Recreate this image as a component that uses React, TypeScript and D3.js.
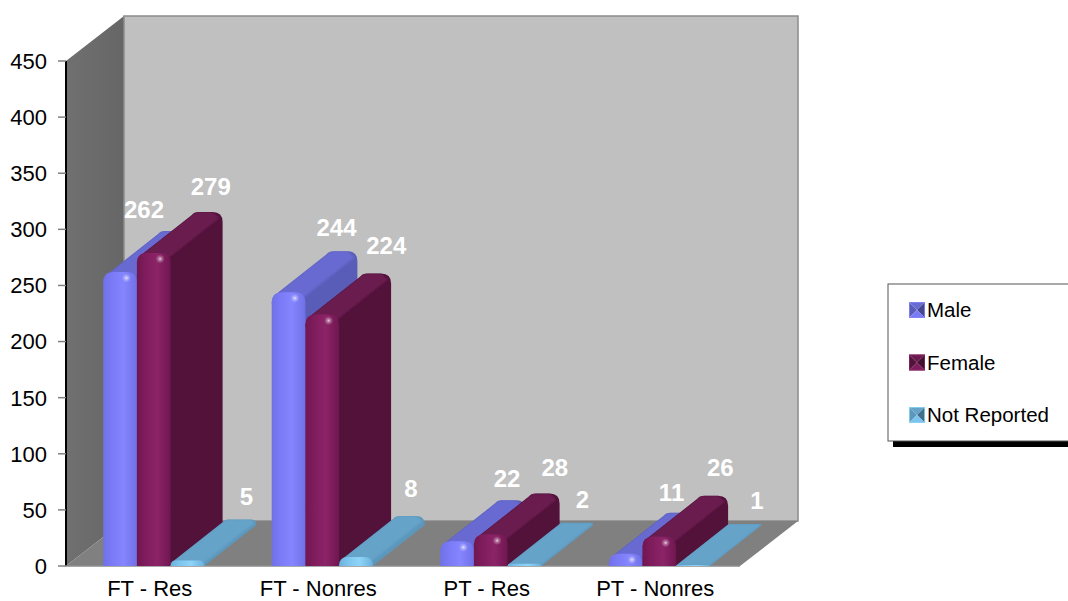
import * as d3 from 'd3';
import React from 'react';

// chart data
const categories = ['FT - Res', 'FT - Nonres', 'PT - Res', 'PT - Nonres'];
const seriesNames = ['Male', 'Female', 'Not Reported'];
const male = [262, 244, 22, 11];
const female = [279, 224, 28, 26];
const notReported = [5, 8, 2, 1];
const yTicks = [0, 50, 100, 150, 200, 250, 300, 350, 400, 450];

const W = 1068;
const H = 601;
const plot = { left: 66, right: 740, top: 61, bottom: 566 };
const depth = { dx: 58, dy: -45 };
const barDepth = { dx: 52, dy: -41 };

const colors = [
	{ light: '#8585ff', mid: '#7a7af6', edge: '#7070e6', top: '#686bd2', side: '#5a5db8', dark: '#45478f' },
	{ light: '#8c2468', mid: '#7f1c5c', edge: '#701650', top: '#6b1a50', side: '#521239', dark: '#420e2e' },
	{ light: '#8fd4f8', mid: '#7cc4ee', edge: '#6bb0dc', top: '#66a3c9', side: '#5c97bc', dark: '#3f6f8c' },
];

const x0 = d3.scaleBand<string>().domain(categories).range([plot.left + 3.5, plot.right + 3.5]);
const x1 = d3.scaleBand<string>().domain(seriesNames).range([x0.bandwidth() * 0.2, x0.bandwidth() * 0.8]);
const y = d3.scaleLinear().domain([0, 450]).range([plot.bottom, plot.top]);

// hand placed data labels, as in the original: [dx, dy] from front top centre of the bar
const labelNudge = [
	[[24, -54], [57, -58], [59, -55]],
	[[48, -56], [64, -61], [55, -60]],
	[[50, -54], [64, -59], [58, -56]],
	[[46, -53], [61, -61], [64, -56]],
];

const pts = (p: number[][]) => p.map(d => d.join(',')).join(' ');

const Bar = ({ cat, s, value }: { cat: number; s: number; value: number }) => {
	const name = seriesNames[s];
	const x = (x0(categories[cat]) as number) + (x1(name) as number);
	const w = x1.bandwidth();
	const yTop = y(value);
	const base = plot.bottom;
	const c = colors[s];
	const { dx, dy } = barDepth;
	const r = Math.min(10, (base - yTop) * 0.95);
	const k = 0.3 * r;

	const front = `M${x},${base}V${yTop + r}Q${x},${yTop} ${x + r},${yTop}H${x + w - r}Q${x + w},${yTop} ${x + w},${yTop + r}V${base}Z`;
	// whole outline of the extruded bar
	const outline = `M${x},${yTop + r}L${x + k},${yTop + k}L${x + dx + k},${yTop + dy + k}Q${x + dx + r * 0.5},${yTop + dy} ${x + dx + r},${yTop + dy}H${x + w + dx - r}Q${x + w + dx},${yTop + dy} ${x + w + dx},${yTop + dy + r}V${base + dy}L${x + w},${base}Z`;
	const topFace = `M${x + k},${yTop + k}L${x + dx + k},${yTop + dy + k}Q${x + dx + r * 0.5},${yTop + dy} ${x + dx + r},${yTop + dy}H${x + w + dx - r}L${x + w + dx - k},${yTop + dy + 2 * k}L${x + w - k},${yTop + 2 * k}Z`;
	const clipId = `clip${cat}-${s}`;

	return (
		<g>
			<clipPath id={clipId}><path d={outline} /></clipPath>
			<path d={outline} fill={c.side} />
			<path d={topFace} fill={c.top} clipPath={`url(#${clipId})`} filter="url(#soft)" />
			<path d={front} fill={`url(#front${s})`} />
			{value > 10 && (
				<circle cx={x + w * 0.69} cy={yTop + Math.min(6, r * 0.7)} r={4.5} fill="url(#spec)" />
			)}
		</g>
	);
};

const Swatch = ({ s, x, yy }: { s: number; x: number; yy: number }) => {
	const c = colors[s];
	const size = 16;
	const a = [x, yy], b = [x + size, yy], d = [x + size, yy + size], e = [x, yy + size];
	const m = [x + size / 2, yy + size / 2];
	return (
		<g>
			<polygon points={pts([a, m, e])} fill={c.side} />
			<polygon points={pts([a, b, m])} fill={c.top} />
			<polygon points={pts([b, d, m])} fill={c.dark} />
			<polygon points={pts([e, d, m])} fill={c.mid} />
			<rect x={x + 0.5} y={yy + 0.5} width={size - 1} height={size - 1} fill="none" stroke={c.light} strokeWidth={1} opacity={0.8} />
		</g>
	);
};

export default function App() {
	const font = '"Liberation Sans", Arial, sans-serif';
	const values = [male, female, notReported];
	return (
		<svg width={W} height={H} style={{ position: 'absolute', left: 0, top: 0 }} fontFamily={font}>
			<defs>
				{colors.map((c, i) => (
					<linearGradient key={i} id={`front${i}`} x1="0" x2="1" y1="0" y2="0">
						<stop offset="0" stopColor={c.edge} />
						<stop offset="0.25" stopColor={c.mid} />
						<stop offset="0.6" stopColor={c.light} />
						<stop offset="1" stopColor={c.edge} />
					</linearGradient>
				))}
				<radialGradient id="spec">
					<stop offset="0" stopColor="#fff" stopOpacity={0.8} />
					<stop offset="0.4" stopColor="#fff" stopOpacity={0.35} />
					<stop offset="1" stopColor="#fff" stopOpacity={0} />
				</radialGradient>
				<linearGradient id="leftWall" x1="0" x2="1" y1="0" y2="0">
					<stop offset="0" stopColor="#707070" />
					<stop offset="1" stopColor="#666666" />
				</linearGradient>
				<filter id="soft" x="-10%" y="-10%" width="120%" height="120%">
					<feGaussianBlur stdDeviation="1.2" />
				</filter>
			</defs>

			{/* walls */}
			<polygon
				points={pts([[plot.left, plot.top], [plot.left + depth.dx, plot.top + depth.dy], [plot.left + depth.dx, plot.bottom + depth.dy], [plot.left, plot.bottom]])}
				fill="url(#leftWall)"
			/>
			<rect
				x={plot.left + depth.dx}
				y={plot.top + depth.dy}
				width={plot.right - plot.left}
				height={plot.bottom - plot.top}
				fill="#c0c0c0"
				stroke="#8c8c8c"
				strokeWidth={1.5}
			/>
			<polygon
				points={pts([[plot.left, plot.bottom], [plot.left + depth.dx, plot.bottom + depth.dy], [plot.right + depth.dx, plot.bottom + depth.dy], [plot.right, plot.bottom]])}
				fill="#808080"
			/>

			{/* axes */}
			<line x1={plot.left} x2={plot.left} y1={plot.top} y2={plot.bottom} stroke="#000" strokeWidth={2} />
			<line x1={plot.left} x2={plot.right} y1={plot.bottom} y2={plot.bottom} stroke="#8c8c8c" strokeWidth={1.5} />
			{yTicks.map(t => (
				<g key={t}>
					<line x1={plot.left - 8} x2={plot.left} y1={y(t)} y2={y(t)} stroke="#808080" strokeWidth={1.5} />
					<text x={47} y={y(t)} dy="0.36em" textAnchor="end" fontSize={22} fill="#000">{t}</text>
				</g>
			))}
			{categories.map(c => (
				<text key={c} x={(x0(c) as number) + x0.bandwidth() / 2 - 4} y={596} textAnchor="middle" fontSize={22} fill="#000">{c}</text>
			))}

			{/* bars */}
			{categories.map((c, ci) => (
				<g key={c}>
					{seriesNames.map((s, si) => (
						<Bar key={s} cat={ci} s={si} value={values[si][ci]} />
					))}
				</g>
			))}

			{/* data labels */}
			{categories.map((c, ci) =>
				seriesNames.map((s, si) => (
					<text
						key={c + s}
						x={(x0(c) as number) + (x1(s) as number) + x1.bandwidth() / 2 + labelNudge[ci][si][0]}
						y={y(values[si][ci]) + labelNudge[ci][si][1]}
						textAnchor="middle"
						fontSize={24}
						fontWeight="bold"
						fill="#fff"
					>
						{values[si][ci]}
					</text>
				))
			)}

			{/* legend */}
			<rect x={893} y={441} width={W - 893} height={6} fill="#000" />
			<rect x={888} y={284} width={W - 888 + 2} height={157} fill="#fff" stroke="#555" strokeWidth={1} />
			{seriesNames.map((s, i) => (
				<g key={s}>
					<Swatch s={i} x={909} yy={302 + i * 52.5} />
					<text x={927} y={317 + i * 52.5} fontSize={20.5} fill="#000">{s}</text>
				</g>
			))}
		</svg>
	);
}
